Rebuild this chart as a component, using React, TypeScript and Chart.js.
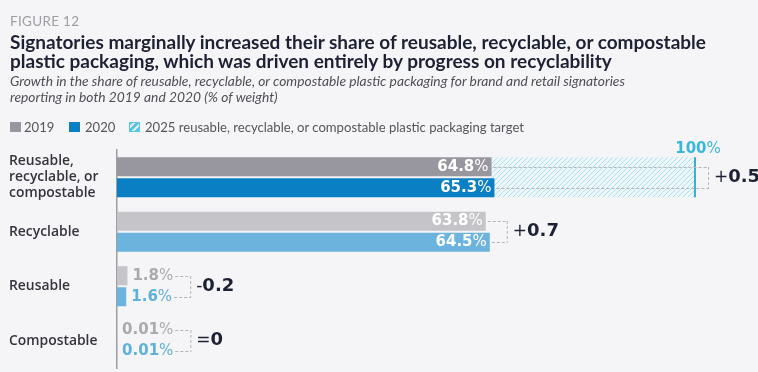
import { useEffect, useRef } from 'react';
import { Chart, registerables } from 'chart.js';

Chart.register(...registerables);

// Categories (multi-line label for the combined group)
const categories: (string | string[])[] = [
  ['Reusable,', 'recyclable, or', 'compostable'],
  'Recyclable',
  'Reusable',
  'Compostable',
];
const share2019 = [64.8, 63.8, 1.8, 0.01];
const share2020 = [65.3, 64.5, 1.6, 0.01];
const target2025: (number | null)[] = [100, null, null, null];
const seriesNames = ['2019', '2020', '2025 reusable, recyclable, or compostable plastic packaging target'];

const figureLabel = 'FIGURE 12';
const titleLines = [
  'Signatories marginally increased their share of reusable, recyclable, or compostable',
  'plastic packaging, which was driven entirely by progress on recyclability',
];
const subtitleLines = [
  'Growth in the share of reusable, recyclable, or compostable plastic packaging for brand and retail signatories',
  'reporting in both 2019 and 2020 (% of weight)',
];

const colors2019 = ['#98979f', '#c4c4c9', '#c4c4c9', '#c4c4c9'];
const colors2020 = ['#0a7fc4', '#6cb4de', '#6cb4de', '#6cb4de'];
const outsideLabel2019 = '#a9a9ae';
const outsideLabel2020 = '#5fb0dc';
const targetColor = '#2db4db';
const hatchColor = '#acdeee';
const dashColor = '#b4b4b9';
const darkText = '#1e2034';
const NUM_FONT = '"DejaVu Sans"';
const TEXT_FONT = 'Lato';

function makeHatch(): CanvasPattern | string {
  const c = document.createElement('canvas');
  c.width = 5;
  c.height = 5;
  const g = c.getContext('2d');
  if (!g) return hatchColor;
  g.fillStyle = '#eef7fa';
  g.fillRect(0, 0, 5, 5);
  g.strokeStyle = hatchColor;
  g.lineWidth = 1;
  g.beginPath();
  g.moveTo(-1, 6);
  g.lineTo(6, -1);
  g.moveTo(-1, 1);
  g.lineTo(1, -1);
  g.moveTo(4, 6);
  g.lineTo(6, 4);
  g.stroke();
  const ctx = document.createElement('canvas').getContext('2d');
  return ctx ? (ctx.createPattern(c, 'repeat') as CanvasPattern) : hatchColor;
}

// Draws "<number>%" with a bold number and a lighter percent sign; returns the right edge.
function drawPct(
  ctx: CanvasRenderingContext2D,
  num: string,
  x: number,
  y: number,
  align: 'left' | 'right' | 'center',
  color: string,
  size: number,
): number {
  ctx.font = `bold ${size}px ${NUM_FONT}`;
  const wNum = ctx.measureText(num).width;
  ctx.font = `${size}px ${NUM_FONT}`;
  const wPct = ctx.measureText('%').width;
  const total = wNum + wPct;
  const start = align === 'left' ? x : align === 'right' ? x - total : x - total / 2;
  ctx.fillStyle = color;
  ctx.textAlign = 'left';
  ctx.textBaseline = 'middle';
  ctx.font = `bold ${size}px ${NUM_FONT}`;
  ctx.fillText(num, start, y);
  ctx.font = `${size}px ${NUM_FONT}`;
  ctx.fillText('%', start + wNum, y);
  return start + total;
}

const targetPlugin = {
  id: 'targetHatch',
  beforeDatasetsDraw(chart: any) {
    const { ctx } = chart;
    const x = chart.scales.x;
    const m0 = chart.getDatasetMeta(0).data;
    const m1 = chart.getDatasetMeta(1).data;
    const pattern = makeHatch();
    target2025.forEach((t, i) => {
      if (t == null) return;
      const b0 = m0[i];
      const b1 = m1[i];
      const top = Math.min(b0.y - b0.height / 2, b1.y - b1.height / 2);
      const bottom = Math.max(b0.y + b0.height / 2, b1.y + b1.height / 2);
      const x0 = x.getPixelForValue(Math.min(share2019[i], share2020[i]));
      const x1 = x.getPixelForValue(t);
      ctx.save();
      ctx.fillStyle = pattern;
      ctx.fillRect(x0, top, x1 - x0, bottom - top);
      ctx.strokeStyle = targetColor;
      ctx.lineWidth = 2;
      ctx.beginPath();
      ctx.moveTo(x1, top);
      ctx.lineTo(x1, bottom);
      ctx.stroke();
      drawPct(ctx, String(t), x1 + 3, top - 8, 'center', '#38b6de', 15);
      ctx.restore();
    });
  },
};

const labelPlugin = {
  id: 'valueLabels',
  afterDatasetsDraw(chart: any) {
    const { ctx } = chart;
    const xs = chart.scales.x;
    const m0 = chart.getDatasetMeta(0).data;
    const m1 = chart.getDatasetMeta(1).data;
    ctx.save();
    categories.forEach((_, i) => {
      const rows = [
        { bar: m0[i], v: share2019[i], col: outsideLabel2019 },
        { bar: m1[i], v: share2020[i], col: outsideLabel2020 },
      ];
      const ends: number[] = [];
      rows.forEach((r) => {
        const end = xs.getPixelForValue(r.v);
        if (r.v > 20) {
          drawPct(ctx, String(r.v), end - 3, r.bar.y, 'right', '#ffffff', 15);
          ends.push(end);
        } else {
          ends.push(drawPct(ctx, String(r.v), end + 5, r.bar.y, 'left', r.col, 15));
        }
      });
      const t = target2025[i];
      let bx: number;
      if (t != null) bx = xs.getPixelForValue(t) + 13;
      else bx = Math.max(...ends) + 17;

      // dashed bracket joining the two rows
      ctx.strokeStyle = dashColor;
      ctx.lineWidth = 1;
      ctx.setLineDash([3, 2]);
      ctx.beginPath();
      rows.forEach((r, k) => {
        ctx.moveTo(ends[k] + 2, Math.round(r.bar.y) + 0.5);
        ctx.lineTo(bx, Math.round(r.bar.y) + 0.5);
      });
      ctx.moveTo(bx + 0.5, Math.round(rows[0].bar.y));
      ctx.lineTo(bx + 0.5, Math.round(rows[1].bar.y) + 1);
      ctx.stroke();
      ctx.setLineDash([]);

      // change label
      const diff = Math.round((share2020[i] - share2019[i]) * 10) / 10;
      const sign = diff > 0 ? '+' : diff < 0 ? '-' : '=';
      const mag = diff === 0 ? '0' : Math.abs(diff).toFixed(1);
      const cy = (rows[0].bar.y + rows[1].bar.y) / 2;
      ctx.fillStyle = darkText;
      ctx.textAlign = 'left';
      ctx.textBaseline = 'middle';
      ctx.font = `17px ${NUM_FONT}`;
      const sx = bx + 6;
      ctx.fillText(sign, sx, cy);
      const ws = ctx.measureText(sign).width;
      ctx.font = `bold 18px ${NUM_FONT}`;
      ctx.fillText(mag, sx + ws, cy);
    });
    ctx.restore();
  },
};

export default function App() {
  const ref = useRef<HTMLCanvasElement>(null);

  useEffect(() => {
    if (!ref.current) return;
    const chart = new Chart(ref.current, {
      type: 'bar',
      data: {
        labels: categories,
        datasets: [
          { label: seriesNames[0], data: share2019, backgroundColor: colors2019, categoryPercentage: 0.772, barPercentage: 0.905 },
          { label: seriesNames[1], data: share2020, backgroundColor: colors2020, categoryPercentage: 0.772, barPercentage: 0.905 },
        ],
      },
      options: {
        indexAxis: 'y',
        responsive: false,
        animation: false,
        devicePixelRatio: 1,
        layout: { padding: { left: 9, right: 63, top: 150, bottom: 4 } },
        scales: {
          x: { display: false, min: 0, max: 100 },
          y: {
            grid: { display: false, drawTicks: false },
            border: { display: true, color: '#9d9da2', width: 1.5 },
            ticks: {
              crossAlign: 'far',
              padding: 0,
              color: '#34343d',
              font: { family: '"Open Sans"', size: 13.9, weight: 600, lineHeight: 1.15 },
            },
            afterFit: (s: any) => {
              s.width = 108;
              s.paddingTop = 0;
              s.paddingBottom = 0;
            },
          },
        },
        plugins: { legend: { display: false }, tooltip: { enabled: false } },
      },
      plugins: [targetPlugin, labelPlugin],
    });
    return () => chart.destroy();
  }, []);

  const box = (bg: string, left: number) => ({
    position: 'absolute' as const,
    left,
    top: 4,
    width: 11,
    height: 10,
    background: bg,
  });
  const txt = (left: number) => ({ position: 'absolute' as const, left, top: 0 });

  return (
    <div
      style={{
        position: 'absolute',
        left: 0,
        top: 0,
        width: 758,
        height: 372,
        background: '#f5f5f7',
        overflow: 'hidden',
        fontFamily: TEXT_FONT,
      }}
    >
      <canvas ref={ref} width={758} height={372} style={{ position: 'absolute', left: 0, top: 0 }} />
      <div style={{ position: 'absolute', left: 10, top: 13, fontSize: 13.5, lineHeight: '17px', color: '#9d9da3', letterSpacing: 0.3 }}>
        {figureLabel}
      </div>
      <div style={{ position: 'absolute', left: 10, top: 33, fontSize: 19, lineHeight: '18.5px', fontWeight: 700, color: darkText, whiteSpace: 'nowrap' }}>
        {titleLines.map((l) => (
          <div key={l}>{l}</div>
        ))}
      </div>
      <div style={{ position: 'absolute', left: 10, top: 73, fontSize: 13.8, lineHeight: '16px', fontStyle: 'italic', color: '#4e4e55', whiteSpace: 'nowrap' }}>
        {subtitleLines.map((l) => (
          <div key={l}>{l}</div>
        ))}
      </div>
      <div style={{ position: 'absolute', left: 0, top: 118, width: 758, height: 18, fontSize: 13.1, lineHeight: '18px', color: '#55555c', whiteSpace: 'nowrap' }}>
        <span style={box('#98979f', 10)} />
        <span style={txt(24)}>{seriesNames[0]}</span>
        <span style={box('#0a7fc4', 69)} />
        <span style={txt(85)}>{seriesNames[1]}</span>
        <span
          style={{
            ...box('repeating-linear-gradient(135deg, #5cc4e4 0 3px, #d8f1f8 3px 5px)', 129),
            boxShadow: 'inset 0 0 0 1px #5cc4e4',
          }}
        />
        <span style={txt(145)}>{seriesNames[2]}</span>
      </div>
    </div>
  );
}
